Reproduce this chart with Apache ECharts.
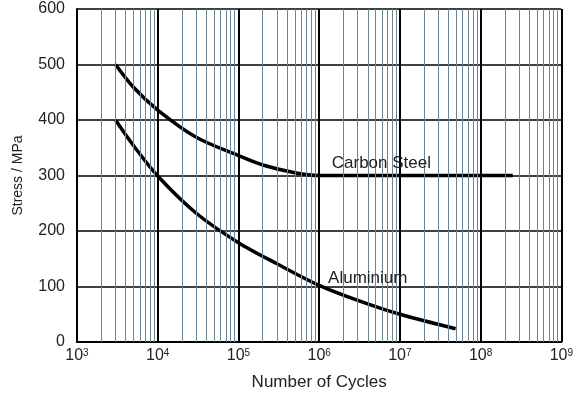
<!DOCTYPE html>
<html>
<head>
<meta charset="utf-8">
<script src="https://cdn.jsdelivr.net/npm/echarts@6/dist/echarts.min.js"></script>
<style>
  html, body { margin: 0; padding: 0; background: #fff; }
  #chart { width: 576px; height: 396px; }
</style>
</head>
<body>
<div id="chart"></div>
<script>
// S-N curves
const carbonCycles = [3000, 5000, 1e4, 3e4, 1e5, 2e5, 5e5, 1e6, 1e7, 2.5e8];
const carbonStress = [500, 459, 418, 369, 336, 319, 305, 300, 300, 300];
const alCycles = [3000, 5000, 1e4, 3e4, 1e5, 3e5, 1e6, 3e6, 1e7, 4.9e7];
const alStress = [400, 354, 299, 232, 179, 141, 102, 75, 50, 24];

const seriesNames = ['Carbon Steel', 'Aluminium'];
// where the curve names sit (cycles, stress)
const labelAt = [[5.9e6, 322], [4.0e6, 115]];

const decades = [3, 4, 5, 6, 7, 8];

// minor grid: 2..9 x 10^k
const minorLines = [];
decades.forEach(function (k) {
  for (let m = 2; m <= 9; m++) minorLines.push({ xAxis: m * Math.pow(10, k) });
});

const chart = echarts.init(document.getElementById('chart'));
const textColor = '#222';
const font = '"Liberation Sans", Arial, sans-serif';

function pairs(xs, ys) {
  return xs.map(function (x, i) { return [x, ys[i]]; });
}

chart.setOption({
  animation: false,
  grid: { left: 77, right: 9, top: 9, bottom: 48 },
  xAxis: {
    type: 'log',
    logBase: 10,
    min: 1e3,
    max: 1e9,
    name: 'Number of Cycles',
    nameLocation: 'middle',
    nameGap: 32,
    nameTextStyle: { color: textColor, fontSize: 17, fontFamily: font },
    axisLine: { lineStyle: { color: '#000', width: 2 } },
    axisTick: { show: false },
    axisLabel: {
      margin: 6,
      formatter: function (v) {
        return '{b|10}{s|' + Math.round(Math.log10(v)) + '}';
      },
      rich: {
        b: { fontSize: 16, color: textColor, fontFamily: font, verticalAlign: 'bottom' },
        s: { fontSize: 10, color: textColor, fontFamily: font, verticalAlign: 'top' }
      }
    },
    splitLine: { show: true, lineStyle: { color: '#000', width: 2 } }
  },
  yAxis: {
    type: 'value',
    min: 0,
    max: 600,
    interval: 100,
    name: 'Stress / MPa',
    nameLocation: 'middle',
    nameGap: 52,
    nameTextStyle: { color: textColor, fontSize: 14, fontFamily: font },
    axisLine: { show: true, lineStyle: { color: '#000', width: 2 } },
    axisTick: { show: false },
    axisLabel: { color: textColor, fontSize: 16, fontFamily: font, margin: 12 },
    splitLine: { show: true, lineStyle: { color: '#000', width: 1.5 } }
  },
  series: [
    {
      type: 'line',
      data: [],
      silent: true,
      z: 1,
      markLine: {
        silent: true,
        symbol: ['none', 'none'],
        label: { show: false },
        lineStyle: { color: '#6b8594', width: 1, type: 'solid' },
        data: minorLines
      }
    },
    {
      name: seriesNames[0],
      type: 'line',
      smooth: 0.3,
      showSymbol: false,
      z: 3,
      data: pairs(carbonCycles, carbonStress),
      lineStyle: { color: '#000', width: 3.5 },
      markPoint: {
        symbol: 'rect',
        symbolSize: 0,
        label: { show: true, formatter: seriesNames[0], color: textColor, fontSize: 17, fontFamily: font },
        data: [{ coord: labelAt[0] }]
      }
    },
    {
      name: seriesNames[1],
      type: 'line',
      smooth: 0.3,
      showSymbol: false,
      z: 3,
      data: pairs(alCycles, alStress),
      lineStyle: { color: '#000', width: 3.5 },
      markPoint: {
        symbol: 'rect',
        symbolSize: 0,
        label: { show: true, formatter: seriesNames[1], color: textColor, fontSize: 17, fontFamily: font },
        data: [{ coord: labelAt[1] }]
      }
    }
  ]
});
</script>
</body>
</html>
